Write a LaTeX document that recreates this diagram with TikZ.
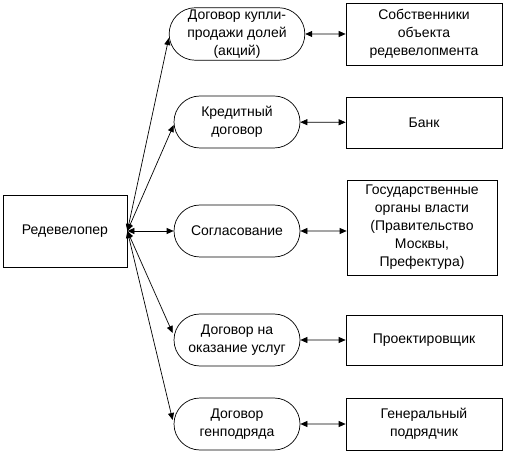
\documentclass[tikz,border=0pt]{standalone}
\usepackage{fontspec}
\setmainfont{Liberation Sans}
\usetikzlibrary{shapes.misc,arrows.meta}

\begin{document}
\begin{tikzpicture}[x=1pt,y=-1pt,line width=0.7pt,
  >={Triangle[length=7pt,width=6pt]},
  font=\fontsize{14}{18}\selectfont]
  \tikzstyle{box}=[draw,rectangle,align=center,inner sep=2pt]
  \tikzstyle{oval}=[draw,rounded rectangle,align=center,minimum width=130pt,minimum height=52pt,inner sep=2pt]
  \useasboundingbox (0,0) rectangle (506,454);
  \node[box,minimum width=124pt,minimum height=72pt] (dev) at (65,231) {Редевелопер};
  % договоры
  \node[oval] (sale)   at (237,34)  {Договор купли-\\продажи долей\\(акций)};
  \node[oval] (credit) at (237,122) {Кредитный\\договор};
  \node[oval] (agree)  at (237,231) {Согласование};
  \node[oval] (design) at (237,340) {Договор на\\оказание услуг};
  \node[oval] (build)  at (237,424) {Договор\\генподряда};
  % участники
  \node[box,minimum width=156pt,minimum height=62pt] (owners) at (424,34) {Собственники\\объекта\\редевелопмента};
  \node[box,minimum width=156pt,minimum height=51pt] (bank)   at (424,122.5) {Банк};
  \node[box,minimum width=150pt,minimum height=95pt] (gov)    at (422,227.5) {Государственные\\органы власти\\(Правительство\\Москвы,\\Префектура)};
  \node[box,minimum width=156pt,minimum height=50pt] (proj)   at (424,340) {Проектировщик};
  \node[box,minimum width=156pt,minimum height=52pt] (gen)    at (424,424) {Генеральный\\подрядчик};
  \draw[<->] (dev.east) -- ([yshift=-4pt]sale.west);
  \draw[<->] (dev.east) -- ([yshift=-3pt]credit.west);
  \draw[<->] (dev.east) -- (agree.west);
  \draw[<->] (dev.east) -- ([xshift=-1pt,yshift=7pt]design.west);
  \draw[<->] (dev.east) -- ([xshift=-1pt,yshift=4pt]build.west);
  \draw[<->] (sale) -- (owners);
  \draw[<->] (credit) -- (bank);
  \draw[<->] (agree) -- (agree -| gov.west);
  \draw[<->] (design) -- (proj);
  \draw[<->] (build) -- (gen);
\end{tikzpicture}
\end{document}
